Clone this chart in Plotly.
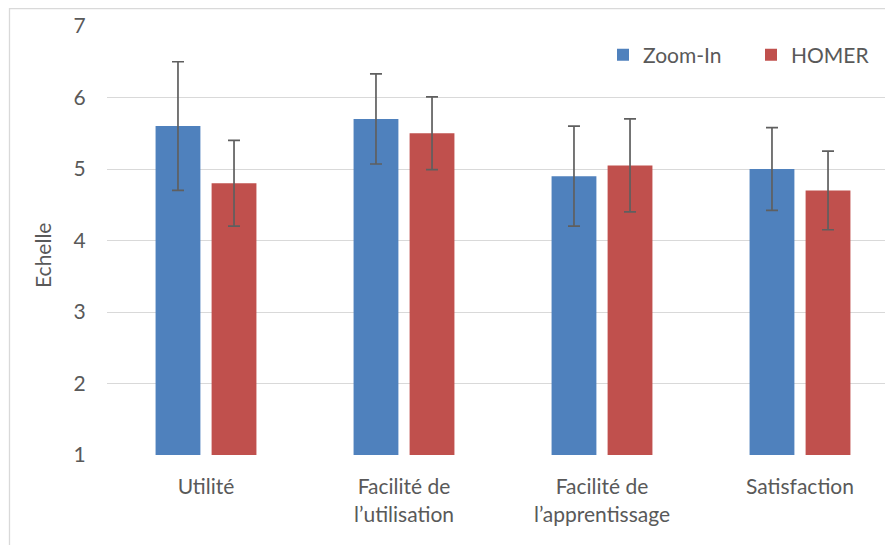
import plotly.graph_objects as go

categories = ["Utilité", "Facilité de<br>l’utilisation", "Facilité de<br>l’apprentissage", "Satisfaction"]
zoom_in = [5.6, 5.7, 4.9, 5.0]
zoom_in_err = [0.9, 0.63, 0.7, 0.58]
homer = [4.8, 5.5, 5.05, 4.7]
homer_err = [0.6, 0.51, 0.65, 0.55]
y_ticks = [1, 2, 3, 4, 5, 6, 7]

FONT = "Lato"
TXT = "#595959"
FS = 21
OFF = 8  # default body margin of the html page
W, H = 893 - OFF, 545 - OFF
L, T = 107 - OFF, 26 - OFF
pw, ph = 893 - 107, 455 - 26
R = W - L - pw
B = H - T - ph

def px_x(x):
    return (x - 107) / pw

def px_y(y):
    return (455 - y) / ph

fig = go.Figure()
for name, vals, errs, col in [("Zoom-In", zoom_in, zoom_in_err, "#4f81bd"),
                              ("HOMER", homer, homer_err, "#c0504d")]:
    fig.add_trace(go.Bar(
        name=name, x=categories, y=[v - 1 for v in vals], base=1,
        marker=dict(color=col, line=dict(width=0)),
        error_y=dict(type="data", array=errs, color="#5f5f5f", thickness=1.7, width=6),
    ))

fig.update_layout(
    width=W, height=H,
    margin=dict(l=L, r=R, t=T, b=B, autoexpand=False),
    plot_bgcolor="white", paper_bgcolor="white",
    barmode="group", bargap=0.434, bargroupgap=0.2,
    font=dict(family=FONT, size=FS, color=TXT),
    legend=dict(orientation="h", x=px_x(603), xanchor="left",
                y=px_y(55), yanchor="middle",
                font=dict(size=FS, color=TXT), itemsizing="constant",
                entrywidth=103, entrywidthmode="pixels", bgcolor="rgba(0,0,0,0)"),
    xaxis=dict(range=[-0.5, -0.5 + pw / 198.0], showgrid=False, showline=False,
               ticks="outside", ticklen=13, tickcolor="rgba(0,0,0,0)",
               tickfont=dict(size=FS, color=TXT)),
    yaxis=dict(range=[1, 7], tickvals=y_ticks, showgrid=True, gridcolor="#d9d9d9",
               gridwidth=1.3, zeroline=False, showline=False,
               ticks="outside", ticklen=16, tickcolor="rgba(0,0,0,0)",
               tickfont=dict(size=FS, color=TXT)),
    annotations=[dict(text="Echelle", xref="paper", yref="paper",
                      x=px_x(42), y=px_y(256), xanchor="center", yanchor="middle",
                      textangle=-90, showarrow=False, font=dict(size=FS, color=TXT))],
    shapes=[dict(type="rect", xref="paper", yref="paper",
                 x0=px_x(9.5), x1=1.05, y0=-0.5, y1=px_y(8.5),
                 line=dict(color="#d9d9d9", width=1.3), fillcolor="rgba(0,0,0,0)", layer="below")],
)

fig.write_html("out.html")
